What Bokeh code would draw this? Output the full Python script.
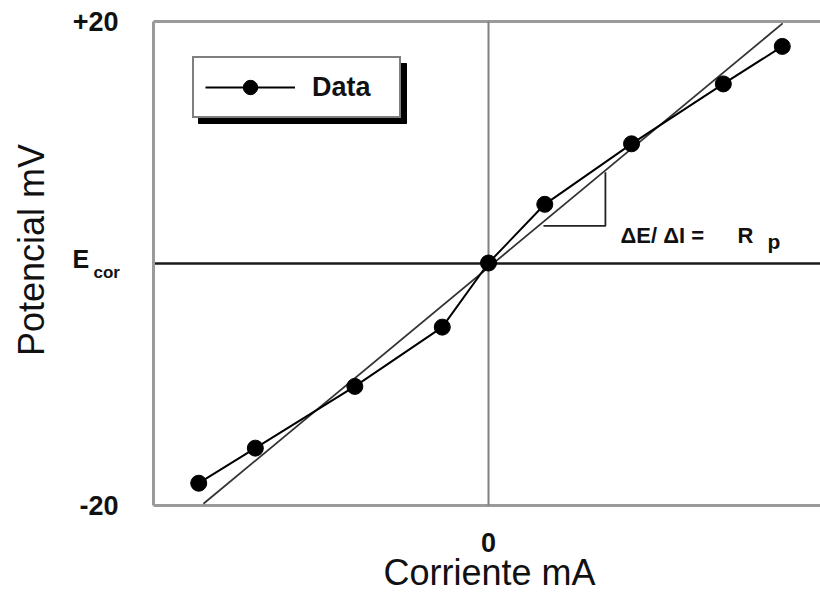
import math
from bokeh.plotting import figure
from bokeh.models import (Label, FixedTicker, LinearAxis, Range1d, Legend,
                          LegendItem, BoxAnnotation)
from bokeh.embed import file_html
from bokeh.resources import INLINE

# ---- data ----
current_mA = [-8.65, -6.96, -3.99, -1.38, 0.0, 1.68, 4.27, 7.01, 8.77]
potential_mV = [-18.2, -15.3, -10.2, -5.3, 0.0, 4.85, 9.85, 14.8, 17.9]
fit_current = [-8.51, 8.78]
fit_potential = [-19.9, 19.8]
slope_current = [1.64, 3.49, 3.49]
slope_potential = [3.06, 3.06, 7.5]
y_tick_values = [-20, 0, 20]
y_tick_labels = ["-20", "", "+20"]
x_tick_values = [0]
x_tick_labels = ["0"]

FONT = "Liberation Sans"
INK = "#111111"
W, H = 820, 594

# pixel geometry of the chart box (canvas pixels)
PX_ORIGIN_X, PX_PER_X = 488.0, 33.5
PX_ORIGIN_Y, PX_PER_Y = 262.5, 12.1
X_MIN = -10.0                     # left edge of the box
Y_MIN, Y_MAX = -20.0, 20.0


def dx(px):
    return (px - PX_ORIGIN_X) / PX_PER_X


def dy(py):
    return (PX_ORIGIN_Y - py) / PX_PER_Y


X_MAX = dx(W)

p = figure(width=W, height=H, output_backend="svg", toolbar_location=None,
           x_range=Range1d(dx(0), dx(W)), y_range=Range1d(dy(H), dy(0)),
           min_border=0, min_border_left=0, min_border_right=0,
           min_border_top=0, min_border_bottom=0,
           x_axis_location=None, y_axis_location=None)
p.grid.visible = False
p.outline_line_color = None
p.background_fill_color = "white"
p.border_fill_color = "white"


def make_axis(loc, bounds, ticks, labels, color, width, standoff=0):
    ax = LinearAxis(fixed_location=loc, bounds=bounds,
                    ticker=FixedTicker(ticks=ticks),
                    major_label_overrides=dict(zip(ticks, labels)))
    ax.level = "underlay"
    ax.axis_line_color = color
    ax.axis_line_width = width
    ax.major_tick_line_color = None
    ax.minor_tick_line_color = None
    ax.major_tick_out = 0
    ax.major_tick_in = 0
    ax.minor_tick_out = 0
    ax.minor_tick_in = 0
    ax.major_label_standoff = standoff
    ax.major_label_text_font = FONT
    ax.major_label_text_font_style = "bold"
    ax.major_label_text_font_size = "27px"
    ax.major_label_text_color = INK
    return ax


FRAME = "#9a9a9a"
# box: left, bottom, top
p.add_layout(make_axis(X_MIN, (Y_MIN, Y_MAX), y_tick_values, y_tick_labels,
                       FRAME, 3, standoff=35), "left")
p.add_layout(make_axis(Y_MIN, (X_MIN, X_MAX), x_tick_values, x_tick_labels,
                       FRAME, 3, standoff=28), "below")
p.add_layout(make_axis(Y_MAX, (X_MIN, X_MAX), [], [], FRAME, 3), "above")
# centre cross (axes through the origin)
p.add_layout(make_axis(0, (Y_MIN, Y_MAX), [], [], "#808080", 2), "left")
p.add_layout(make_axis(0, (X_MIN, X_MAX), [], [], "#1a1a1a", 2.5), "below")

# data
fit_r = p.line(fit_current, fit_potential, line_color="#333333", line_width=1.8)
line_r = p.line(current_mA, potential_mV, line_color="black", line_width=2)
pts_r = p.scatter(current_mA, potential_mV, size=16, color="black")
tri_r = p.line(slope_current, slope_potential, line_color="#222222",
               line_width=1.8)

# legend with drop shadow
p.add_layout(BoxAnnotation(left=dx(198), right=dx(406), top=dy(63),
                           bottom=dy(123), fill_color="black", fill_alpha=1,
                           line_color="black", line_alpha=1, level="underlay"))
legend = Legend(items=[LegendItem(label="Data", renderers=[line_r, pts_r])],
                location=(192, H - 118), orientation="vertical",
                glyph_width=90, glyph_height=36, label_standoff=17,
                label_width=76, label_height=20, padding=11, margin=0,
                spacing=0, border_line_color="black", border_line_width=2.5,
                background_fill_color="white", background_fill_alpha=1,
                label_text_font=FONT, label_text_font_style="bold",
                label_text_font_size="27px", label_text_color=INK)
p.add_layout(legend)


def label(px, py, text, size, bold=False, angle=0.0, align="left"):
    # (px, py) is the visual middle of the text line
    p.add_layout(Label(x=dx(px), y=dy(py), text=text, angle=angle,
                       text_font=FONT,
                       text_font_style="bold" if bold else "normal",
                       text_font_size=size, text_color=INK,
                       text_baseline="middle", text_align=align))


# E_cor tick label
label(72, 258, "E", "25px", bold=True)
label(93, 272, "cor", "17px", bold=True)
# axis titles
label(30.5, 249.5, "Potencial mV", "36px", angle=math.pi / 2, align="center")
label(489, 572, "Corriente mA", "36px", align="center")
# slope annotation
label(620, 235, "\u0394E/ \u0394I =", "22px", bold=True)
label(737, 235, "R", "22px", bold=True)
label(767, 241, "p", "21px", bold=True)

open("out.html", "w").write(file_html(p, INLINE))
